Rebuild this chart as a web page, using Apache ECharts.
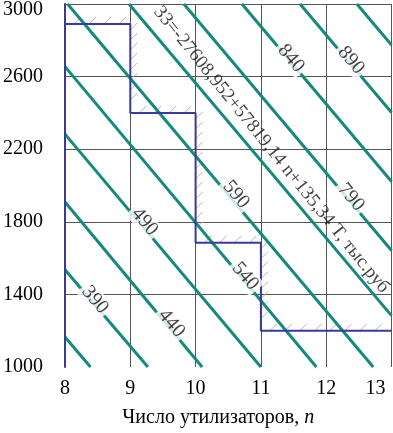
<!DOCTYPE html>
<html><head><meta charset="utf-8">
<script src="https://cdn.jsdelivr.net/npm/echarts@6/dist/echarts.min.js"></script>
<style>html,body{margin:0;padding:0;background:#fff}#c{width:393px;height:433px}</style>
</head><body><div id="c"></div>
<script>
const xTickValues = [8, 9, 10, 11, 12, 13];
const yTickValues = [1000, 1400, 1800, 2200, 2600, 3000];
const xAxisTitle = 'Число утилизаторов, ';
const xAxisVar = 'n';

// iso-cost lines: start and end points (n, T)
const isoNames  = ['340','390','440','490','540','590','Z','790','840','890','940'];
const isoStartN = [8, 8, 8, 8, 8, 8.04, 8.98, 9.82, 10.71, 11.60, 12.47];
const isoStartT = [1165, 1536, 1909, 2283, 2655, 3000, 3000, 3000, 3000, 3000, 3000];
const isoEndN   = [8.39, 9.27, 10.10, 11.0, 11.85, 12.72, 13, 13, 13, 13, 13];
const isoEndT   = [1000, 1000, 1000, 1000, 1000, 1000, 1283, 1642, 2022, 2402, 2774];

// line labels
const labelText = ['390','440','490','540','590','790','840','890'];
const labelN    = [8.46, 9.63, 9.22, 10.76, 10.62, 12.38, 11.46, 12.38];
const labelT    = [1370, 1240, 1800, 1500, 1950, 1935, 2700, 2690];

const formulaText = '33=-27608,952+57819,14 n+135,34 T, тыс.руб';
const formulaN = [11.0];
const formulaT = [2137];

// constraint boundary (step line)
const stepN = [8, 8, 9, 9, 10, 10, 11, 11, 13];
const stepT = [1000, 2890, 2890, 2400, 2400, 1685, 1685, 1200, 1200];

const FONT = "'Liberation Serif', 'Times New Roman', serif";
const TEAL = '#148a7c';
const NAVY = '#3a3a98';
const GRID = '#555555';

const series = [];

// hatching along the step boundary
series.push({
  type: 'custom', coordinateSystem: 'cartesian2d', silent: true, z: 3, clip: false,
  data: [[stepN[0], stepT[0]]],
  renderItem: function (params, api) {
    const children = [];
    for (let i = 1; i < stepN.length - 1; i++) {
      const p0 = api.coord([stepN[i], stepT[i]]);
      const p1 = api.coord([stepN[i + 1], stepT[i + 1]]);
      const dx = p1[0] - p0[0], dy = p1[1] - p0[1];
      const len = Math.hypot(dx, dy);
      const vertical = Math.abs(dx) < 1;
      const st = vertical ? 10 : 15;
      const cnt = Math.floor(len / st);
      for (let k = 0; k < cnt; k++) {
        const t = (k + 0.6) * st / len;
        const x = p0[0] + dx * t, y = p0[1] + dy * t;
        children.push({ type: 'line', shape: { x1: x, y1: y, x2: x + 7, y2: y - 7 },
          style: { stroke: '#c8a9b8', lineWidth: 1 } });
      }
    }
    return { type: 'group', children: children };
  }
});

// iso lines
for (let i = 0; i < isoNames.length; i++) {
  series.push({
    type: 'line', name: isoNames[i], silent: true, z: 4, symbol: 'none',
    data: [[isoStartN[i], isoStartT[i]], [isoEndN[i], isoEndT[i]]],
    lineStyle: { color: TEAL, width: 3 }
  });
}

// step boundary
series.push({
  type: 'line', name: 'boundary', silent: true, z: 5, symbol: 'none',
  data: stepN.map((n, i) => [n, stepT[i]]),
  lineStyle: { color: NAVY, width: 2 }
});

// labels on lines
series.push({
  type: 'scatter', silent: true, z: 10, symbolSize: 0,
  data: labelN.map((n, i) => ({ value: [n, labelT[i]], name: labelText[i] })),
  label: {
    show: true, position: 'inside', formatter: p => p.name, rotate: -50,
    fontFamily: FONT, fontSize: 20, color: '#111', backgroundColor: '#fff', padding: [0, 3]
  }
});
series.push({
  type: 'scatter', silent: true, z: 10, symbolSize: 0,
  data: formulaN.map((n, i) => ({ value: [n, formulaT[i]], name: formulaText })),
  label: {
    show: true, position: 'inside', formatter: p => p.name, rotate: -51, offset: [-2, -15],
    fontFamily: FONT, fontSize: 19, color: '#111'
  }
});

const chart = echarts.init(document.getElementById('c'), null, { renderer: 'canvas' });
chart.setOption({
  animation: false,
  backgroundColor: '#fff',
  grid: { left: 64, right: 1.5, top: 2, bottom: 66, containLabel: false },
  xAxis: {
    type: 'value', min: xTickValues[0], max: xTickValues[xTickValues.length - 1],
    interval: xTickValues[1] - xTickValues[0],
    axisLine: { show: false, onZero: false }, axisTick: { show: false },
    axisLabel: {
      margin: 12, color: '#000', fontFamily: FONT, fontSize: 20,
      formatter: v => v === xTickValues[xTickValues.length - 1] ? '{e|' + v + '}' : String(v),
      rich: { e: { fontFamily: FONT, fontSize: 20, color: '#000', padding: [0, 32, 0, 0] } }
    },
    splitLine: { show: true, lineStyle: { color: ['rgba(0,0,0,0)', GRID, GRID, GRID, GRID, GRID], width: 1 } },
    name: xAxisTitle + '{i|' + xAxisVar + '}', nameLocation: 'middle', nameGap: 41,
    nameTextStyle: {
      fontFamily: FONT, fontSize: 20, color: '#000', padding: [0, 20, 0, 0],
      rich: { i: { fontFamily: FONT, fontSize: 20, fontStyle: 'italic', color: '#000' } }
    }
  },
  yAxis: {
    type: 'value', min: yTickValues[0], max: yTickValues[yTickValues.length - 1],
    interval: yTickValues[1] - yTickValues[0],
    axisLine: { show: true, onZero: false, lineStyle: { color: NAVY, width: 2 } },
    axisTick: { show: false },
    axisLabel: {
      margin: 22, color: '#000', fontFamily: FONT, fontSize: 20,
      formatter: v => v === yTickValues[yTickValues.length - 1] ? '{t|' + v + '}' : String(v),
      rich: { t: { fontFamily: FONT, fontSize: 20, color: '#000', padding: [12, 0, 0, 0] } }
    },
    splitLine: { show: true, lineStyle: { color: ['rgba(0,0,0,0)', GRID, GRID, GRID, GRID, GRID], width: 1 } }
  },
  series: series
});
</script>
</body></html>
